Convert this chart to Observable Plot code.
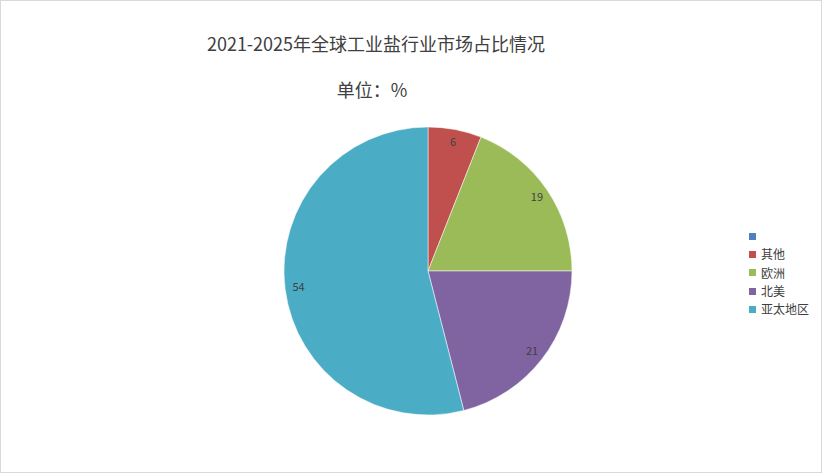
<!DOCTYPE html>
<html>
<head>
<meta charset="utf-8">
<script src="https://cdn.jsdelivr.net/npm/d3@7"></script>
<script src="https://cdn.jsdelivr.net/npm/@observablehq/plot@0.6"></script>
<style>
  html, body { margin: 0; padding: 0; background: #fff; }
  #frame { position: relative; width: 820px; height: 471px; border: 1px solid #d9d9d9; overflow: hidden;
           font-family: "Noto Sans CJK SC", "Noto Sans", sans-serif; color: #404040; }
  #title { position: absolute; left: 0; width: 750px; top: 31px; text-align: center; font-size: 18px; line-height: 22px; }
  #subtitle { position: absolute; left: 0; width: 742px; top: 77px; text-align: center; font-size: 18px; line-height: 22px; }
  #legend { position: absolute; left: 748px; top: 226px; font-size: 12px; line-height: 18.3px; }
  #legend .item { display: flex; align-items: center; height: 18.3px; }
  #legend .sw { width: 7px; height: 7px; margin-right: 5px; }
  #chart { position: absolute; left: 0; top: 0; }
</style>
</head>
<body>
<div id="frame">
  <div id="chart"></div>
  <div id="title"></div>
  <div id="subtitle"></div>
  <div id="legend"></div>
</div>
<script>
const titleText = "2021-2025年全球工业盐行业市场占比情况";
const subtitleText = "单位：%";
const categories = ["", "其他", "欧洲", "北美", "亚太地区"];
const values = [0, 6, 19, 21, 54];
const colors = ["#4F81BD", "#C0504D", "#9BBB59", "#8064A2", "#4BACC6"];

document.getElementById("title").textContent = titleText;
document.getElementById("subtitle").textContent = subtitleText;

const data = categories.map((c, i) => ({category: c, value: values[i]}));
const arcs = d3.pie().sort(null).value(d => d.value)(data);
const labelR = 0.91;
const labels = arcs.filter(a => a.data.value > 0).map(a => {
  const m = (a.startAngle + a.endAngle) / 2;
  return {x: Math.sin(m) * labelR, y: Math.cos(m) * labelR, text: String(a.data.value)};
});

const W = 820, H = 471;
const cx = 427, cy = 270, R = 144;

const pieMark = (index, scales) => {
  const g = d3.create("svg:g");
  const ox = scales.x(0), oy = scales.y(0);
  const r = scales.x(1) - scales.x(0);
  const arc = d3.arc().innerRadius(0).outerRadius(r);
  g.attr("transform", `translate(${ox},${oy})`);
  g.selectAll("path").data(arcs.filter(a => a.data.value > 0)).join("path")
    .attr("d", arc)
    .attr("fill", a => colors[a.index])
    .attr("stroke", "#ffffff")
    .attr("stroke-width", 0.5);
  return g.node();
};

const plot = Plot.plot({
  width: W,
  height: H,
  marginLeft: cx - R,
  marginRight: W - (cx + R),
  marginTop: cy - R,
  marginBottom: H - (cy + R),
  x: {domain: [-1, 1], axis: null},
  y: {domain: [-1, 1], axis: null},
  style: {fontFamily: "'Noto Sans CJK SC', 'Noto Sans', sans-serif", background: "transparent"},
  marks: [
    pieMark,
    Plot.text(labels, {x: "x", y: "y", text: "text", fontSize: 11, fill: "#404040"})
  ]
});
document.getElementById("chart").appendChild(plot);

const legend = document.getElementById("legend");
categories.forEach((c, i) => {
  const item = document.createElement("div");
  item.className = "item";
  const sw = document.createElement("span");
  sw.className = "sw";
  sw.style.background = colors[i];
  const t = document.createElement("span");
  t.textContent = c;
  item.appendChild(sw);
  item.appendChild(t);
  legend.appendChild(item);
});
</script>
</body>
</html>
